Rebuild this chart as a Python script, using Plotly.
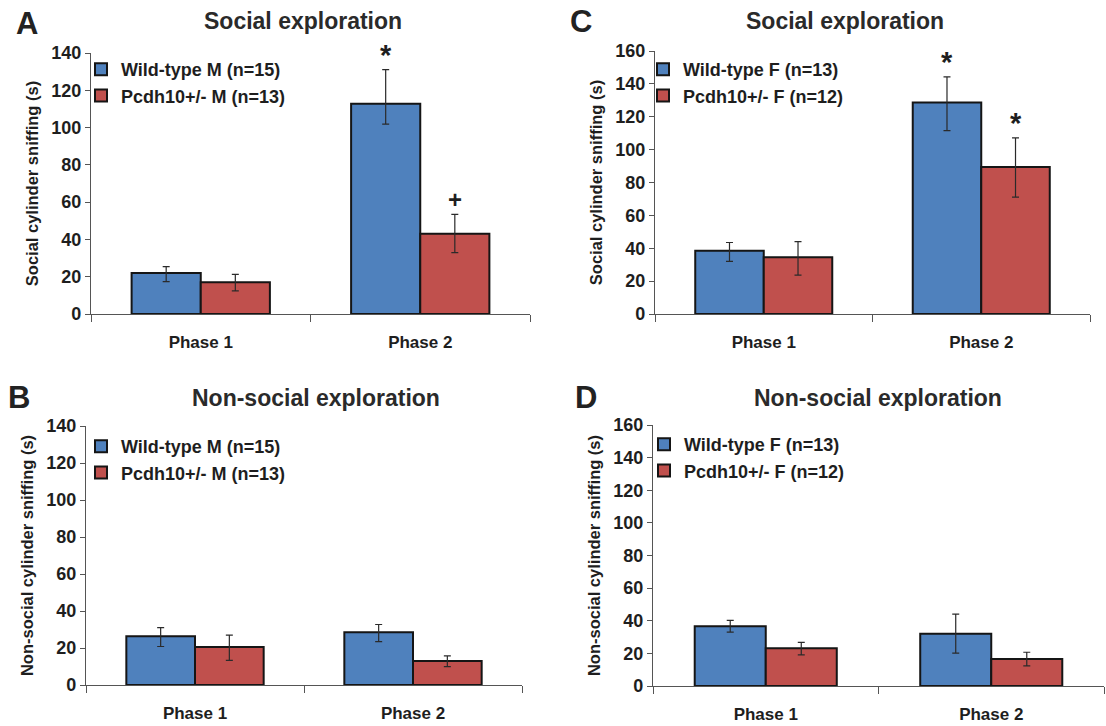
import plotly.graph_objects as go

# ---------------- data ----------------
phases = ["Phase 1", "Phase 2"]

# Panel A: social exploration, males
a_wt = [22.0, 112.8]
a_wt_plus = [3.4, 18.3]
a_wt_minus = [4.6, 11.0]
a_ko = [17.0, 43.1]
a_ko_plus = [4.3, 10.3]
a_ko_minus = [4.6, 10.2]

# Panel B: non-social exploration, males
b_wt = [26.3, 28.5]
b_wt_plus = [4.7, 4.2]
b_wt_minus = [5.5, 5.0]
b_ko = [20.6, 13.0]
b_ko_plus = [6.4, 2.7]
b_ko_minus = [7.3, 3.1]

# Panel C: social exploration, females
c_wt = [38.5, 128.7]
c_wt_plus = [5.0, 15.6]
c_wt_minus = [6.5, 17.2]
c_ko = [34.5, 89.5]
c_ko_plus = [9.5, 17.6]
c_ko_minus = [10.8, 18.4]

# Panel D: non-social exploration, females
d_wt = [36.7, 32.0]
d_wt_plus = [3.5, 12.1]
d_wt_minus = [3.7, 11.9]
d_ko = [23.2, 16.6]
d_ko_plus = [3.5, 4.1]
d_ko_minus = [4.1, 4.3]

male_names = ["Wild-type M (n=15)", "Pcdh10+/- M (n=13)"]
female_names = ["Wild-type F (n=13)", "Pcdh10+/- F (n=12)"]

y_ticks_m = [0, 20, 40, 60, 80, 100, 120, 140]
y_ticks_f = [0, 20, 40, 60, 80, 100, 120, 140, 160]

# ---------------- style ----------------
W, H = 1106, 726
BLUE = "#4F81BD"
RED = "#C0504D"
TXT = "#1e1e1e"
AX = "#555555"
FONT = "Liberation Sans, Arial, sans-serif"

fig = go.Figure()

panels = [
    ("A", "x", "y", "legend", a_wt, a_wt_plus, a_wt_minus, a_ko, a_ko_plus, a_ko_minus, male_names),
    ("C", "x2", "y2", "legend2", c_wt, c_wt_plus, c_wt_minus, c_ko, c_ko_plus, c_ko_minus, female_names),
    ("B", "x3", "y3", "legend3", b_wt, b_wt_plus, b_wt_minus, b_ko, b_ko_plus, b_ko_minus, male_names),
    ("D", "x4", "y4", "legend4", d_wt, d_wt_plus, d_wt_minus, d_ko, d_ko_plus, d_ko_minus, female_names),
]

for key, xa, ya, lg, wt, wtp, wtm, ko, kop, kom, names in panels:
    for vals, p, m, col, nm in [(wt, wtp, wtm, BLUE, names[0]), (ko, kop, kom, RED, names[1])]:
        fig.add_trace(go.Bar(
            x=phases, y=vals, name=nm, xaxis=xa, yaxis=ya, legend=lg,
            marker=dict(color=col, line=dict(color="#151515", width=2)),
            error_y=dict(type="data", symmetric=False, array=p, arrayminus=m,
                         color="#2a2a2a", thickness=1.2, width=3.5),
        ))

def px_x(p):
    return p / W

def px_y(p):
    return 1 - p / H

domains = {
    "A": ([px_x(91), px_x(530)], [px_y(314), px_y(53)], 140, y_ticks_m),
    "C": ([px_x(655), px_x(1090)], [px_y(314), px_y(51)], 160, y_ticks_f),
    "B": ([px_x(86), px_x(522)], [px_y(685), px_y(426)], 140, y_ticks_m),
    "D": ([px_x(653), px_x(1104)], [px_y(686), px_y(425)], 160, y_ticks_f),
}
ytitles = {
    "A": "Social cylinder sniffing (s)",
    "C": "Social cylinder sniffing (s)",
    "B": "Non-social cylinder sniffing (s)",
    "D": "Non-social cylinder sniffing (s)",
}
axis_names = {"A": ("xaxis", "yaxis", "x", "y"), "C": ("xaxis2", "yaxis2", "x2", "y2"),
              "B": ("xaxis3", "yaxis3", "x3", "y3"), "D": ("xaxis4", "yaxis4", "x4", "y4")}

layout_axes = {}
for k, (dx, dy, ymax, yt) in domains.items():
    xn, yn, xr, yr = axis_names[k]
    layout_axes[xn] = dict(
        domain=dx, anchor=yr, type="category", range=[-0.5, 1.5], automargin=False,
        showline=True, linecolor=AX, linewidth=1.2,
        ticks="outside", tickson="boundaries", ticklen=7, tickcolor=AX, tickwidth=1.2,
        tickfont=dict(family=FONT, size=17, color=TXT, weight="bold"),
        ticklabelstandoff=12,
        showgrid=False, zeroline=False, fixedrange=True,
    )
    layout_axes[yn] = dict(
        domain=dy, anchor=xr, range=[0, ymax], tickvals=yt, automargin=False,
        showline=True, linecolor=AX, linewidth=1.2,
        ticks="outside", ticklen=5, tickcolor=AX, tickwidth=1.2,
        tickfont=dict(family=FONT, size=18, color=TXT, weight="bold"),
        title=dict(text=ytitles[k], font=dict(family=FONT, size=16.5, color=TXT, weight="bold"), standoff=8),
        showgrid=False, zeroline=False, fixedrange=True,
    )

legend_style = dict(
    bgcolor="rgba(0,0,0,0)", borderwidth=0,
    font=dict(family=FONT, size=18, color=TXT, weight="bold"),
    xanchor="left", yanchor="top", tracegroupgap=0, itemclick=False,
)
legends = {
    "legend": dict(x=px_x(81), y=px_y(51), **legend_style),
    "legend2": dict(x=px_x(643), y=px_y(51), **legend_style),
    "legend3": dict(x=px_x(81), y=px_y(428), **legend_style),
    "legend4": dict(x=px_x(644), y=px_y(426), **legend_style),
}

annotations = []
for letter, lx, ly in [("A", 27, 23), ("C", 581, 22), ("B", 19, 397), ("D", 586, 397)]:
    annotations.append(dict(text=letter, x=px_x(lx), y=px_y(ly), xref="paper", yref="paper",
                            showarrow=False, xanchor="center", yanchor="middle",
                            font=dict(family=FONT, size=31, color="#222222", weight="bold")))
for title, tx, ty in [("Social exploration", 303, 21), ("Social exploration", 845, 21),
                      ("Non-social exploration", 316, 398), ("Non-social exploration", 878, 398)]:
    annotations.append(dict(text=title, x=px_x(tx), y=px_y(ty), xref="paper", yref="paper",
                            showarrow=False, xanchor="center", yanchor="middle",
                            font=dict(family=FONT, size=23, color="#2a2a2a", weight="bold")))

bar_off = (1 - 0.37) / 4
sig = [
    ("x", "y", 1 - bar_off, a_wt[1] + a_wt_plus[1], "*"),
    ("x", "y", 1 + bar_off, a_ko[1] + a_ko_plus[1], "+"),
    ("x2", "y2", 1 - bar_off, c_wt[1] + c_wt_plus[1], "*"),
    ("x2", "y2", 1 + bar_off, c_ko[1] + c_ko_plus[1], "*"),
]
for xr, yr, xv, yv, s in sig:
    annotations.append(dict(text=s, x=xv, y=yv, xref=xr, yref=yr, showarrow=False,
                            xanchor="center", yanchor="bottom", yshift=-3 if s == "*" else -1,
                            font=dict(family=FONT, size=29 if s == "*" else 24, color=TXT, weight="bold")))

fig.update_layout(
    width=W, height=H, margin=dict(l=0, r=0, t=0, b=0, autoexpand=False),
    paper_bgcolor="white", plot_bgcolor="white",
    barmode="group", bargap=0.37, bargroupgap=0,
    font=dict(family=FONT, color=TXT),
    annotations=annotations,
    **layout_axes, **legends,
)

fig.write_html("out.html")
